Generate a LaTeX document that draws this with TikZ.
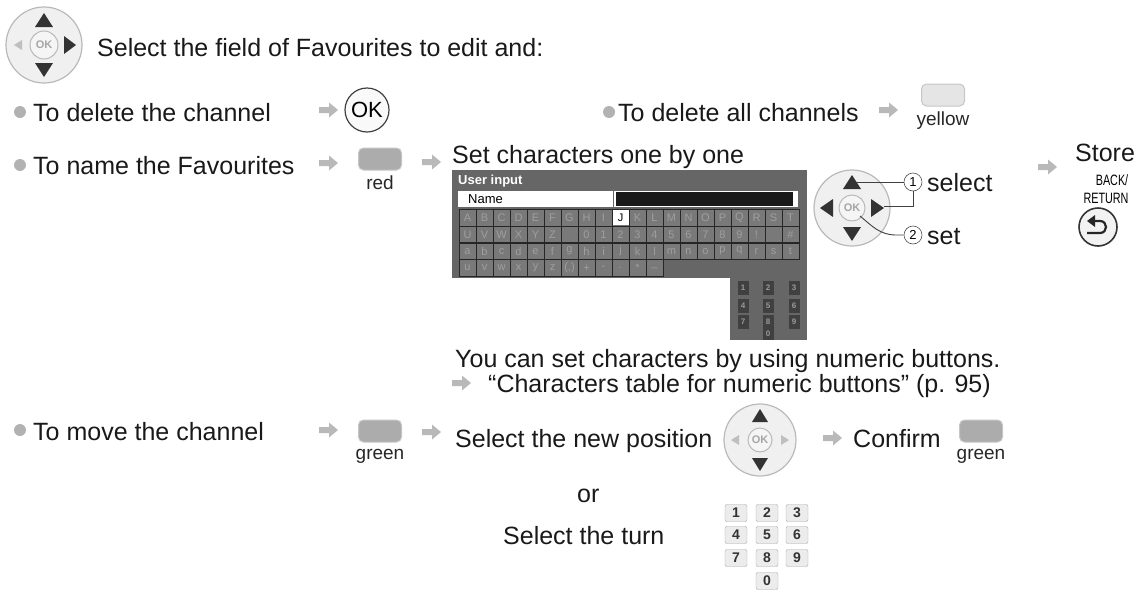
\documentclass[tikz,border=0pt]{standalone}
\usepackage{fontspec}
\setmainfont{Liberation Sans}
\usetikzlibrary{shapes.geometric}
\begin{document}
\begin{tikzpicture}[x=1pt,y=-1pt,
  txt/.style={anchor=base west,inner sep=0pt,font=\fontsize{25}{29}\selectfont,text=black!90},
  lab/.style={inner sep=0pt,font=\fontsize{19}{20}\selectfont,text=black!85},
  garrow/.pic={\fill[gray!55] (-9,-3)--(1,-3)--(1,-7.5)--(10,0)--(1,7.5)--(1,3)--(-9,3)--cycle;},
  btn/.style={draw=gray!45,fill=gray!65,rounded corners=5pt,minimum width=43pt,minimum height=22pt,inner sep=0pt,line width=1pt},
  pad/.style={circle,draw=gray!55,fill=gray!12,line width=1.2pt,inner sep=0pt},
  okc/.style={circle,draw=gray!55,fill=gray!8,line width=1pt,inner sep=0pt,font=\fontsize{11}{11}\selectfont\bfseries,text=gray!70},
  tri/.style={fill=black!80},
  bul/.style={circle,fill=gray!60,inner sep=0pt,minimum size=12pt},
  key/.style={draw=gray!70,fill=gray!15,rounded corners=2pt,minimum width=22pt,minimum height=17pt,inner sep=0pt,font=\fontsize{14}{14}\selectfont\bfseries,text=black!80},
  ln/.style={black!75,line width=0.9pt}
]
\useasboundingbox (0,0) rectangle (1140,592);
% --- row 1
\node[pad,minimum size=76pt] (p1) at (44,45) {};
\node[okc,minimum size=28pt] (ok1) at (44,45) {OK};
\fill[tri] (44,13)--(35,27)--(53,27)--cycle;
\fill[tri] (44,77)--(35,63)--(53,63)--cycle;
\fill[tri] (76,45)--(64,36)--(64,54)--cycle;
\fill[gray!50] (14,45)--(22,40)--(22,50)--cycle;
\node[txt] (t1) at (97,56) {Select the field of Favourites to edit and:};
% --- row 2
\node[bul] (b1) at (20,112) {};
\node[txt] (t2) at (33,121) {To delete the channel};
\pic at (328,110) {garrow};
\node[circle,draw=black!75,fill=gray!5,line width=1.2pt,minimum size=44pt,inner sep=0pt,font=\fontsize{22}{22}\selectfont] (ok2) at (367,110) {OK};
\node[bul] (b2) at (609,112) {};
\node[txt] (t3) at (618,121) {To delete all channels};
\pic at (888,110) {garrow};
\node[btn,fill=gray!20] (yb) at (943,95) {};
\node[lab] (yl) at (943,121) {yellow};
% --- row 3
\node[bul] (b3) at (20,165) {};
\node[txt] (t4) at (33,174) {To name the Favourites};
\pic at (328,163) {garrow};
\node[btn] (rb) at (380,159) {};
\node[lab] (rl) at (380,183) {red};
\pic at (431,162) {garrow};
\node[txt] (t5) at (452,163) {Set characters one by one};
\pic at (1047,167) {garrow};
\node[txt] (t6) at (1075,161) {Store};
\node[inner sep=0pt,font=\fontsize{15}{15}\selectfont\addfontfeatures{FakeStretch=0.72}] (back) at (1112,180) {BACK/};
\node[inner sep=0pt,font=\fontsize{15}{15}\selectfont\addfontfeatures{FakeStretch=0.72}] (ret) at (1106,198) {RETURN};
\node[circle,draw=black!80,line width=1.6pt,fill=gray!10,minimum size=38pt,inner sep=0pt] (rbtn) at (1098,227) {};
\draw[black!85,line width=2.2pt] (1087,233)--(1100,233) .. controls (1108,233) and (1108,221) .. (1100,221) -- (1094,221);
\fill[black!85] (1087,221)--(1095,215)--(1095,227)--cycle;
% keyboard panel
\fill[gray!50!black!80] (452,170) rectangle (807,278);
\fill[gray!50!black!80] (730,278) rectangle (807,340);
\node[anchor=west,inner sep=0pt,text=white,font=\fontsize{13}{13}\selectfont\bfseries] (ui) at (458,181) {User input};
\fill[white] (458,191) rectangle (613,207);
\node[anchor=west,inner sep=0pt,font=\fontsize{13}{13}\selectfont] (nm) at (468,199) {Name};
\fill[white] (614,191) rectangle (798,207);
\fill[black!90] (616,192) rectangle (793,206);
\fill[black!60] (459,209) rectangle (800,276);
\foreach \r [count=\j from 0] in {{A,B,C,D,E,F,G,H,I,J,K,L,M,N,O,P,Q,R,S,T},{U,V,W,X,Y,Z,{ },0,1,2,3,4,5,6,7,8,9,!,{ },\#},{a,b,c,d,e,f,g,h,i,j,k,l,m,n,o,p,q,r,s,t},{u,v,w,x,y,z,(,),+,-,.,*,\_}}{
  \foreach \c [count=\i from 0] in \r {
    \node[draw=black!85,fill=gray!50!black!70,minimum width=17pt,minimum height=16.5pt,inner sep=0pt,text=gray!75,font=\fontsize{11}{11}\selectfont] at (467.5+17*\i,217.5+16.8*\j) {\c};
  }
}
\node[fill=white,minimum width=16pt,minimum height=15pt,inner sep=0pt,font=\fontsize{11}{11}\selectfont] (jj) at (620.5,217.5) {J};
\foreach \x/\a/\b/\c in {743/1/4/7,768/2/5/8,794/3/6/9}{
  \foreach \y/\d in {288/\a,306/\b,322/\c}{
    \node[fill=black!75,minimum width=11pt,minimum height=14pt,inner sep=0pt,text=gray!80,font=\fontsize{8}{8}\selectfont\bfseries] at (\x,\y) {\d};
  }
}
\node[fill=black!75,minimum width=11pt,minimum height=12pt,inner sep=0pt,text=gray!80,font=\fontsize{8}{8}\selectfont\bfseries] (k0) at (768,334) {0};
% dpad 2
\node[pad,minimum size=76pt] (p2) at (852,208) {};
\node[okc,minimum size=26pt] (ok3) at (852,208) {OK};
\fill[tri] (852,175)--(843,189)--(861,189)--cycle;
\fill[tri] (852,241)--(843,227)--(861,227)--cycle;
\fill[tri] (884,208)--(871,199)--(871,217)--cycle;
\fill[tri] (820,208)--(833,199)--(833,217)--cycle;
\node[circle,draw=black!70,line width=0.6pt,minimum size=18pt,inner sep=0pt,font=\fontsize{13}{13}\selectfont] (c1) at (913,182) {1};
\node[circle,draw=black!70,line width=0.6pt,minimum size=18pt,inner sep=0pt,font=\fontsize{13}{13}\selectfont] (c2) at (913,235) {2};
\node[txt] (sel) at (927,191) {select};
\node[txt] (set) at (927,244) {set};
\draw[ln] (c1.west) -- (856,182);
\draw[ln] (c1.south) |- (884,206);
\draw[ln] (c2.west) -- (896,235) to[out=180,in=-40] (860,216);
% numeric note
\node[txt] (t7) at (455,367) {You can set characters by using numeric buttons.};
\pic at (461,383) {garrow};
\node[txt] (t8) at (488,392) {“Characters table for numeric buttons” (p. 95)};
% --- row 5
\node[bul] (b4) at (20,430) {};
\node[txt] (t9) at (33,440) {To move the channel};
\pic at (328,430) {garrow};
\node[btn] (gb) at (380,431) {};
\node[lab] (gl) at (380,456) {green};
\pic at (431,432) {garrow};
\node[txt] (t10) at (455,447) {Select the new position};
\node[pad,minimum size=72pt] (p3) at (760,440) {};
\node[okc,minimum size=24pt] (ok4) at (760,440) {OK};
\fill[tri] (760,409)--(752,422)--(768,422)--cycle;
\fill[tri] (760,471)--(752,458)--(768,458)--cycle;
\fill[gray!50] (789,440)--(781,435)--(781,445)--cycle;
\fill[gray!50] (731,440)--(739,435)--(739,445)--cycle;
\pic at (832,438) {garrow};
\node[txt] (t11) at (853,447) {Confirm};
\node[btn] (gb2) at (981,431) {};
\node[lab] (gl2) at (981,456) {green};
\node[txt] (or) at (577,502) {or};
\node[txt] (t12) at (503,544) {Select the turn};
\foreach \n/\x/\y in {1/736/513,2/767/513,3/797/513,4/736/535,5/767/535,6/797/535,7/736/558,8/767/558,9/797/558,0/767/581}{
  \node[key] (k\n) at (\x,\y) {\n};
}
\end{tikzpicture}
\end{document}
